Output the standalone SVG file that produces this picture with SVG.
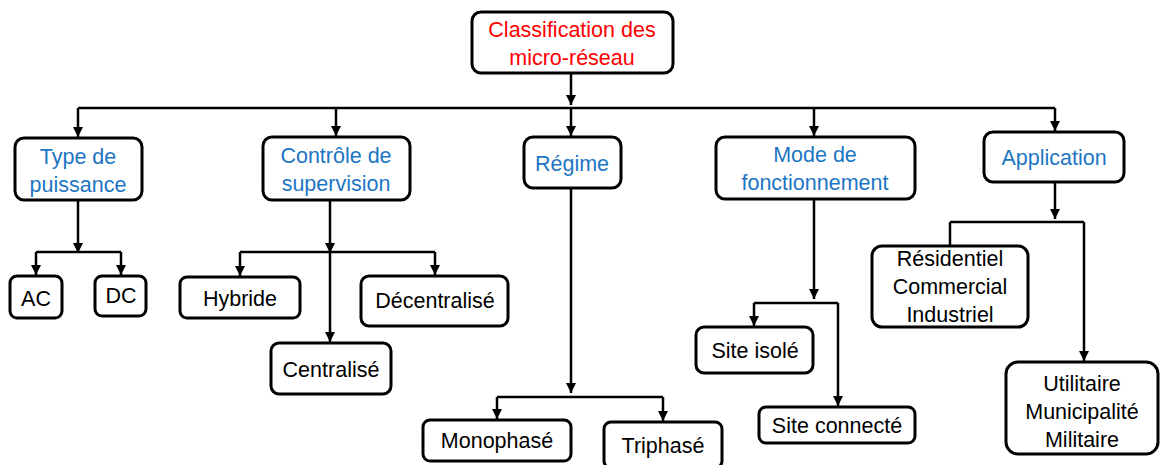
<svg xmlns="http://www.w3.org/2000/svg" width="1163" height="465" viewBox="0 0 1163 465">
<style>
.box{fill:#fff;stroke:#000;stroke-width:3}
.t{font-family:"Liberation Sans",Arial,sans-serif;font-size:21.5px;text-anchor:middle;fill:#000}
.r{fill:#ff0000}
.b{fill:#1d76c4}
.c{fill:none;stroke:#000;stroke-width:2.5}
</style>
<defs>
<marker id="ah" viewBox="0 0 10 10" refX="10" refY="5" markerWidth="4" markerHeight="4" orient="auto" markerUnits="strokeWidth">
<path d="M0,0 L10,5 L0,10 z" fill="#000"/>
</marker>
</defs>
<rect width="1163" height="465" fill="#fff"/>
<g id="connectors">
<path class="c" d="M571,73 V105" marker-end="url(#ah)"/>
<path class="c" d="M78,108 H1055"/>
<path class="c" d="M78,108 V137" marker-end="url(#ah)"/>
<path class="c" d="M336,108 V136" marker-end="url(#ah)"/>
<path class="c" d="M571,108 V136" marker-end="url(#ah)"/>
<path class="c" d="M814,108 V136" marker-end="url(#ah)"/>
<path class="c" d="M1055,108 V131" marker-end="url(#ah)"/>
<path class="c" d="M78,200 V253" marker-end="url(#ah)"/>
<path class="c" d="M36,252 H121"/>
<path class="c" d="M36,252 V275" marker-end="url(#ah)"/>
<path class="c" d="M121,252 V275" marker-end="url(#ah)"/>
<path class="c" d="M330,200 V253" marker-end="url(#ah)"/>
<path class="c" d="M240,252 H435"/>
<path class="c" d="M240,252 V276" marker-end="url(#ah)"/>
<path class="c" d="M435,252 V275" marker-end="url(#ah)"/>
<path class="c" d="M330,252 V342" marker-end="url(#ah)"/>
<path class="c" d="M571,188 V393" marker-end="url(#ah)"/>
<path class="c" d="M497,397 H663"/>
<path class="c" d="M497,397 V419" marker-end="url(#ah)"/>
<path class="c" d="M663,397 V421" marker-end="url(#ah)"/>
<path class="c" d="M814,199 V299" marker-end="url(#ah)"/>
<path class="c" d="M754,303 H838"/>
<path class="c" d="M754,303 V326" marker-end="url(#ah)"/>
<path class="c" d="M838,303 V406" marker-end="url(#ah)"/>
<path class="c" d="M1055,182 V219" marker-end="url(#ah)"/>
<path class="c" d="M950,222 H1084"/>
<path class="c" d="M950,222 V247"/>
<path class="c" d="M1084,222 V361" marker-end="url(#ah)"/>
</g>
<g id="root">
<rect class="box" x="472" y="12" width="201" height="61" rx="9"/>
<text class="t r" x="572" y="37">Classification des</text>
<text class="t r" x="572" y="65">micro-réseau</text>
</g>
<g id="type">
<rect class="box" x="15" y="138" width="127" height="62" rx="9"/>
<text class="t b" x="78" y="164">Type de</text>
<text class="t b" x="78" y="192">puissance</text>
</g>
<g id="controle">
<rect class="box" x="263" y="137" width="147" height="63" rx="9"/>
<text class="t b" x="336" y="163">Contrôle de</text>
<text class="t b" x="336" y="191">supervision</text>
</g>
<g id="regime">
<rect class="box" x="524" y="137" width="97" height="51" rx="9"/>
<text class="t b" x="572" y="171">Régime</text>
</g>
<g id="mode">
<rect class="box" x="716" y="137" width="199" height="62" rx="9"/>
<text class="t b" x="815" y="162">Mode de</text>
<text class="t b" x="815" y="190">fonctionnement</text>
</g>
<g id="application">
<rect class="box" x="984" y="132" width="140" height="50" rx="9"/>
<text class="t b" x="1054" y="165">Application</text>
</g>
<g id="ac">
<rect class="box" x="10" y="276" width="52" height="42" rx="7"/>
<text class="t" x="36" y="306">AC</text>
</g>
<g id="dc">
<rect class="box" x="95" y="276" width="51" height="40" rx="7"/>
<text class="t" x="121" y="303">DC</text>
</g>
<g id="hybride">
<rect class="box" x="180" y="277" width="120" height="41" rx="7"/>
<text class="t" x="240" y="306">Hybride</text>
</g>
<g id="centralise">
<rect class="box" x="271" y="343" width="120" height="51" rx="8"/>
<text class="t" x="331" y="377">Centralisé</text>
</g>
<g id="decentralise">
<rect class="box" x="361" y="276" width="147" height="50" rx="8"/>
<text class="t" x="435" y="308">Décentralisé</text>
</g>
<g id="monophase">
<rect class="box" x="423" y="420" width="148" height="41" rx="7"/>
<text class="t" x="497" y="448">Monophasé</text>
</g>
<g id="triphase">
<rect class="box" x="604" y="422" width="118" height="46" rx="7"/>
<text class="t" x="663" y="453">Triphasé</text>
</g>
<g id="siteisole">
<rect class="box" x="696" y="327" width="117" height="46" rx="8"/>
<text class="t" x="755" y="358">Site isolé</text>
</g>
<g id="siteconnecte">
<rect class="box" x="759" y="407" width="156" height="36" rx="7"/>
<text class="t" x="837" y="433">Site connecté</text>
</g>
<g id="residentiel">
<rect class="box" x="872" y="246" width="156" height="81" rx="10"/>
<text class="t" x="950" y="266">Résidentiel</text>
<text class="t" x="950" y="294">Commercial</text>
<text class="t" x="950" y="322">Industriel</text>
</g>
<g id="utilitaire">
<rect class="box" x="1006" y="362" width="152" height="92" rx="12"/>
<text class="t" x="1082" y="391">Utilitaire</text>
<text class="t" x="1082" y="419">Municipalité</text>
<text class="t" x="1082" y="447">Militaire</text>
</g>
</svg>
